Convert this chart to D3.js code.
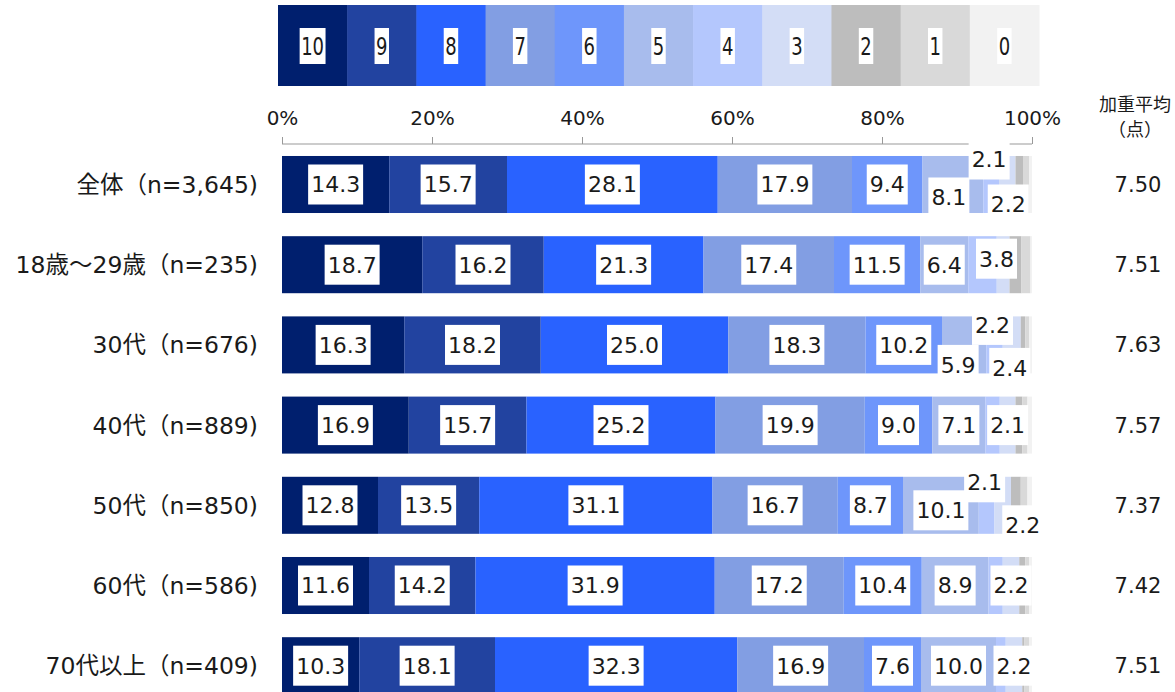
<!DOCTYPE html>
<html>
<head>
<meta charset="utf-8">
<script src="https://cdn.jsdelivr.net/npm/d3@7/dist/d3.min.js"></script>
<style>
  body { margin: 0; background: #fff; }
  text { font-family: "DejaVu Sans", "Noto Sans CJK JP", sans-serif; fill: #1a1a1a; }
</style>
</head>
<body>
<div id="chart"></div>
<script>
var categories = ["全体（n=3,645)", "18歳～29歳（n=235)", "30代（n=676)", "40代（n=889)", "50代（n=850)", "60代（n=586)", "70代以上（n=409)"];
var scores = ["10", "9", "8", "7", "6", "5", "4", "3", "2", "1", "0"];
var v10 = [14.3, 18.7, 16.3, 16.9, 12.8, 11.6, 10.3];
var v9  = [15.7, 16.2, 18.2, 15.7, 13.5, 14.2, 18.1];
var v8  = [28.1, 21.3, 25.0, 25.2, 31.1, 31.9, 32.3];
var v7  = [17.9, 17.4, 18.3, 19.9, 16.7, 17.2, 16.9];
var v6  = [9.4, 11.5, 10.2, 9.0, 8.7, 10.4, 7.6];
var v5  = [8.1, 6.4, 5.9, 7.1, 10.1, 8.9, 10.0];
var v4  = [2.1, 3.8, 2.2, 1.9, 2.1, 1.9, 1.3];
var v3  = [2.2, 1.7, 2.4, 2.1, 2.2, 2.2, 2.2];
var v2  = [1.0, 1.6, 0.6, 0.9, 1.3, 0.8, 0.3];
var v1  = [0.8, 1.2, 0.5, 0.7, 0.9, 0.5, 0.6];
var v0  = [0.4, 0.2, 0.4, 0.6, 0.6, 0.4, 0.4];
var averages = ["7.50", "7.51", "7.63", "7.57", "7.37", "7.42", "7.51"];
var tickValues = [0, 20, 40, 60, 80, 100];

var series = [v10, v9, v8, v7, v6, v5, v4, v3, v2, v1, v0];
var colors = ["#001f6e", "#2243a0", "#2962ff", "#829ee3", "#6e96fb", "#a8bced", "#b4c7fd", "#d3ddf6", "#bdbdbd", "#d9d9d9", "#f2f2f2"];

// hand-moved labels (row-score): dx, dy
var nudge = {
  "0-5": [-4, 13], "0-4": [-2, -25], "0-3": [1, 20],
  "1-4": [14, -6],
  "2-5": [-6, 20], "2-4": [-2, -20], "2-3": [-2, 23],
  "4-5": [0, 5], "4-4": [-2, -23], "4-3": [20, 20]
};

var svg = d3.select("#chart").append("svg").attr("width", 1175).attr("height", 692);

var x = d3.scaleLinear().domain([0, 100]).range([282, 1032]);
var y = d3.scaleBand().domain(categories).range([144.4, 705.8]).paddingInner(0.289).paddingOuter(0.1445);

// legend
var lx = d3.scaleBand().domain(scores).range([278, 1039]);
var leg = svg.append("g").selectAll("g").data(scores).enter().append("g");
leg.append("rect")
  .attr("x", function(d) { return lx(d); }).attr("y", 5)
  .attr("width", lx.bandwidth() + 0.5).attr("height", 81)
  .attr("fill", function(d, i) { return colors[i]; });
leg.each(function(d) {
  var g = d3.select(this).append("g")
    .attr("transform", "translate(" + (lx(d) + lx.bandwidth() / 2) + ",46) scale(0.75,1)");
  var t = g.append("text").attr("text-anchor", "middle").attr("dy", "0.36em")
    .attr("font-size", "24px").text(d);
  var w = t.node().getComputedTextLength();
  g.insert("rect", "text").attr("x", -w / 2 - 2).attr("y", -18).attr("width", w + 4).attr("height", 36).attr("fill", "#fff");
});

// axis
var axis = svg.append("g").attr("transform", "translate(0,144)")
  .call(d3.axisTop(x).tickValues(tickValues).tickSize(7).tickPadding(12).tickFormat(function(d) { return d + "%"; }));
axis.select(".domain").attr("stroke", "#999").attr("d", "M282,0H1032");
axis.selectAll(".tick line").attr("stroke", "#999");
axis.selectAll(".tick text").attr("font-size", "20px").attr("fill", "#1a1a1a")
  .style("font-family", "'DejaVu Sans', sans-serif");

// stacked bars
var rows = categories.map(function(c, r) {
  var acc = 0;
  return series.map(function(s, k) {
    var seg = { row: r, k: k, cat: c, v: s[r], x0: acc, x1: acc + s[r] };
    acc += s[r];
    return seg;
  });
});
var segs = d3.merge(rows);

svg.append("g").selectAll("rect").data(segs).enter().append("rect")
  .attr("x", function(d) { return x(d.x0); })
  .attr("y", function(d) { return y(d.cat); })
  .attr("width", function(d) { return x(d.x1) - x(d.x0); })
  .attr("height", y.bandwidth())
  .attr("fill", function(d) { return colors[d.k]; });

// value labels
var lab = svg.append("g").selectAll("g")
  .data(segs.filter(function(d) { return d.k <= 7 && d.v >= 2; }))
  .enter().append("g")
  .attr("transform", function(d) {
    var n = nudge[d.row + "-" + scores[d.k]] || [0, 0];
    return "translate(" + ((x(d.x0) + x(d.x1)) / 2 + n[0]) + "," + (y(d.cat) + y.bandwidth() / 2 + n[1]) + ")";
  });
lab.each(function(d) {
  var g = d3.select(this);
  var t = g.append("text").attr("text-anchor", "middle").attr("dy", "0.36em")
    .attr("font-size", "22px").text(d.v.toFixed(1));
  var w = t.node().getComputedTextLength();
  g.insert("rect", "text").attr("x", -w / 2 - 3).attr("y", -20).attr("width", w + 6).attr("height", 40).attr("fill", "#fff");
});

// category labels
svg.append("g").selectAll("text").data(categories).enter().append("text")
  .attr("x", 258).attr("y", function(d) { return y(d) + y.bandwidth() / 2; })
  .attr("dy", "0.36em").attr("text-anchor", "end").attr("font-size", "23.5px")
  .text(function(d) { return d; });

// weighted average
svg.append("text").attr("x", 1135).attr("y", 111).attr("text-anchor", "middle").attr("font-size", "18px").text("加重平均");
svg.append("text").attr("x", 1135).attr("y", 136).attr("text-anchor", "middle").attr("font-size", "18px").text("（点）");
svg.append("g").selectAll("text").data(averages).enter().append("text")
  .attr("x", 1138).attr("y", function(d, i) { return y(categories[i]) + y.bandwidth() / 2; })
  .attr("dy", "0.36em").attr("text-anchor", "middle").attr("font-size", "21px")
  .text(function(d) { return d; });
</script>
</body>
</html>
